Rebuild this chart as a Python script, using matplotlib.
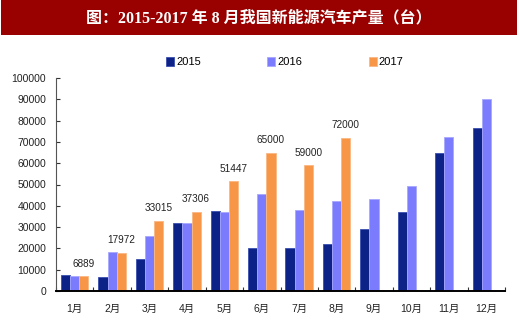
import matplotlib
matplotlib.use("Agg")
import matplotlib.pyplot as plt
from matplotlib.patches import Rectangle
import numpy as np

months = ["1月", "2月", "3月", "4月", "5月", "6月", "7月", "8月", "9月", "10月", "11月", "12月"]
series_names = ["2015", "2016", "2017"]
prod_2015 = [7500, 6700, 15000, 32000, 37700, 20000, 20000, 21900, 29000, 37100, 64600, 76700]
prod_2016 = [7100, 18100, 25700, 31800, 37200, 45400, 38200, 42400, 43000, 49100, 72100, 90300]
prod_2017 = [6889, 17972, 33015, 37306, 51447, 65000, 59000, 72000]
yticks = [0, 10000, 20000, 30000, 40000, 50000, 60000, 70000, 80000, 90000, 100000]

title = "图：2015-2017 年 8 月我国新能源汽车产量（台）"

colors = ["#0c2287", "#7b7bfd", "#f79646"]
edges = ["#3a4fb0", "#a8a8ff", "#fbb884"]

plt.rcParams["font.family"] = ["Liberation Sans", "Noto Sans CJK SC"]

fig = plt.figure(figsize=(5.2, 3.33), dpi=100)
fig.patch.set_facecolor("white")

# title banner
fig.patches.append(Rectangle((0.002, 1 - 35 / 333), 0.992, 35 / 333,
                             transform=fig.transFigure, facecolor="#990000",
                             edgecolor="none", zorder=0))
fig.text(0.498, 1 - 18 / 333, title, color="white", fontsize=11.5,
         fontweight="bold", ha="center", va="center",
         family=["Liberation Serif", "Noto Sans CJK SC"])

ax = fig.add_axes([56 / 520, 1 - 291 / 333, 449 / 520, 213 / 333])

x = np.arange(len(months))
w = 0.245
all_series = [prod_2015, prod_2016, prod_2017]
for i, (vals, name) in enumerate(zip(all_series, series_names)):
    xs = x[:len(vals)] + (i - 1) * w
    ax.bar(xs, vals, width=w, color=colors[i], edgecolor=edges[i],
           linewidth=0.6, label=name, zorder=2)

for xi, v in zip(x[:len(prod_2017)], prod_2017):
    ax.text(xi + w, v + 3500, str(v), ha="center", va="bottom",
            fontsize=7.2, color="#222222")

ax.set_xlim(-0.5, len(months) - 0.5)
ax.set_ylim(0, 100000)
ax.set_yticks(yticks)
ax.set_yticklabels([str(t) for t in yticks], fontsize=7.5, color="#222222")
ax.set_xticks(x)
ax.set_xticklabels(months, fontsize=7.5, color="#222222")
ax.set_xticks(np.arange(len(months) + 1) - 0.5, minor=True)
ax.tick_params(axis="x", which="major", length=0, pad=9)
ax.tick_params(axis="x", which="minor", direction="in", length=3, width=0.8,
               color="#333333")
ax.tick_params(axis="y", direction="in", length=3, width=0.8, color="#333333",
               pad=7)

for s in ["top", "right"]:
    ax.spines[s].set_visible(False)
ax.spines["left"].set_color("#555555")
ax.spines["left"].set_linewidth(0.8)
ax.spines["bottom"].set_color("black")
ax.spines["bottom"].set_linewidth(1.4)
ax.spines["bottom"].set_zorder(3)

ax.legend(loc="center left", bbox_to_anchor=(0.235, 1.075), ncol=3,
          frameon=False, fontsize=8, handlelength=0.7, handleheight=0.9,
          handletextpad=0.2, columnspacing=6.0, borderaxespad=0)

fig.savefig("out.png", dpi=100, facecolor="white")
